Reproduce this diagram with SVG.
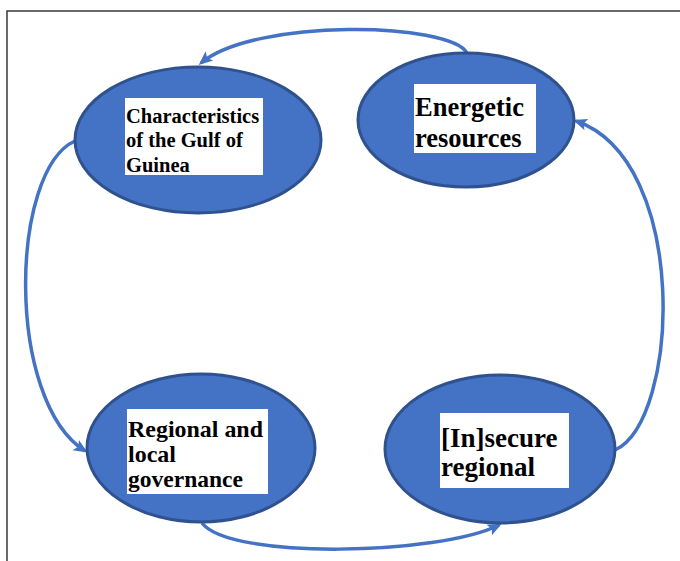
<svg xmlns="http://www.w3.org/2000/svg" width="680" height="561" viewBox="0 0 680 561">
<style>
.node{fill:#4472C4;stroke:#2F528F;stroke-width:3}
.box{fill:#FFFFFF}
.lbl{font-weight:bold;fill:#000}
.edge{fill:none;stroke:#4472C4;stroke-width:3.5}
.frame{fill:none;stroke:#3a3a3a;stroke-width:1.5}
</style>
<defs>
<marker id="ah" viewBox="0 0 14 14" refX="11" refY="7" markerWidth="14" markerHeight="14" orient="auto" markerUnits="userSpaceOnUse">
<path d="M0,1 L14,7 L0,13 L3,7 Z" fill="#4472C4"/>
</marker>
</defs>
<rect width="680" height="561" fill="#FFFFFF"/>
<path class="frame" d="M7,561 L7,11 L680,11"/>
<g id="connectors">
<path class="edge" marker-end="url(#ah)" d="M467,53 C450,22 255,18 201,63"/>
<path class="edge" marker-end="url(#ah)" d="M75,141 C10,170 5,400 85,451"/>
<path class="edge" marker-end="url(#ah)" d="M202,523 C230,560 440,555 499,525"/>
<path class="edge" marker-end="url(#ah)" d="M615,450 C680,420 690,160 576,121"/>
</g>
<g font-family="Liberation Serif, Times New Roman, DejaVu Serif, serif">
<g id="node-characteristics">
<ellipse class="node" cx="198" cy="140" rx="123" ry="73"/>
<rect class="box" x="125" y="98" width="138" height="77"/>
<text class="lbl" font-size="20.5" x="126" y="123">Characteristics</text>
<text class="lbl" font-size="20.5" x="126" y="147">of the Gulf of</text>
<text class="lbl" font-size="20.5" x="126" y="172">Guinea</text>
</g>
<g id="node-energetic">
<ellipse class="node" cx="466" cy="120" rx="108" ry="67"/>
<rect class="box" x="414" y="84" width="122" height="69"/>
<text class="lbl" font-size="26.5" x="415" y="116">Energetic</text>
<text class="lbl" font-size="26.5" x="415" y="147">resources</text>
</g>
<g id="node-regional">
<ellipse class="node" cx="201" cy="448" rx="114" ry="74"/>
<rect class="box" x="127" y="409" width="141" height="85"/>
<text class="lbl" font-size="22.5" x="128" y="437" textLength="135" lengthAdjust="spacingAndGlyphs">Regional and</text>
<text class="lbl" font-size="22.5" x="128" y="462" textLength="48" lengthAdjust="spacingAndGlyphs">local</text>
<text class="lbl" font-size="22.5" x="128" y="487" textLength="115" lengthAdjust="spacingAndGlyphs">governance</text>
</g>
<g id="node-insecure">
<ellipse class="node" cx="500" cy="449" rx="115" ry="74"/>
<rect class="box" x="440" y="413" width="129" height="75"/>
<text class="lbl" font-size="27" x="441" y="447">[In]secure</text>
<text class="lbl" font-size="27" x="441" y="476">regional</text>
</g>
</g>
</svg>
